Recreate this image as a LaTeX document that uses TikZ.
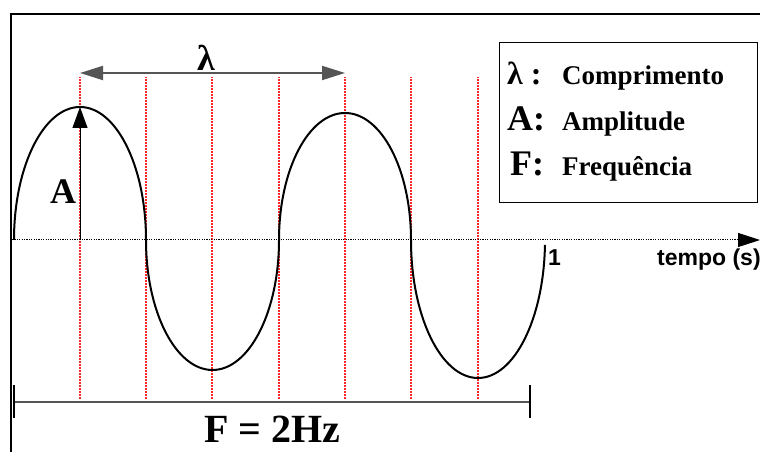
\documentclass[tikz,border=0pt]{standalone}
\usepackage{fontspec}
\setmainfont{Liberation Serif}
\setsansfont{Liberation Sans}
\usetikzlibrary{arrows.meta}
\definecolor{GuideRed}{RGB}{250,40,40}
\definecolor{ArrowGray}{RGB}{85,85,85}
\tikzset{
  wave/.style={draw=black,line width=2pt},
  guide/.style={draw=GuideRed,line width=1.1pt,dash pattern=on 2pt off 1pt},
  axisline/.style={draw=black,line width=1pt,dash pattern=on 1.2pt off 1.2pt},
  txt/.style={inner sep=0pt,anchor=base west},
  big/.style={txt,font=\bfseries\fontsize{36}{40}\selectfont},
  legtext/.style={txt,font=\bfseries\fontsize{27}{30}\selectfont},
  sanslab/.style={txt,font=\sffamily\bfseries\fontsize{23}{26}\selectfont},
}
\tikzset{head/.style={-{Triangle[length=22pt,width=14pt]}}, bar/.style={draw=ArrowGray,line width=2pt}}

\begin{document}
\begin{tikzpicture}[x=1pt,y=1pt]
\useasboundingbox (0,0) rectangle (760,452);
% frame
\draw[line width=2.5pt] (11,0) -- (11,438) -- (762,438);
% guide lines
\foreach \gx in {80,146,212,279,345,411,478}
  \draw[guide] (\gx,53) -- (\gx,375);
% time axis
\coordinate (t0) at (12,212);
\coordinate (t1) at (760,212);
\draw[axisline,head] (t0) -- (t1);
% wave
\draw[wave] (14,212) arc[start angle=180,end angle=0,x radius=66,y radius=133]
  arc[start angle=180,end angle=360,x radius=66.5,y radius=130]
  arc[start angle=180,end angle=0,x radius=66,y radius=127]
  arc[start angle=180,end angle=358,x radius=67,y radius=138];
% wavelength
\coordinate (l0) at (80,379);
\coordinate (l1) at (345,379);
\draw[bar,{Triangle[length=23pt,width=14pt]}-{Triangle[length=23pt,width=14pt]}] (l0) -- (l1);
\node[big] (lam) at (197,381) {λ};
% amplitude
\coordinate (a0) at (80,212);
\coordinate (a1) at (80,345);
\draw[line width=1pt,-{Triangle[length=21pt,width=15pt]}] (a0) -- (a1);
\node[big] (amp) at (50,248) {A};
% axis labels
\node[sanslab] (one) at (548,186) {1};
\node[sanslab] (tempo) at (657,186) {tempo (s)};
% one second span
\coordinate (s0) at (14,50);
\coordinate (s1) at (530,50);
\draw[bar] (s0) -- (s1);
\draw[line width=1.2pt] (14,34) -- (14,67) (530,34) -- (530,67);
\node[big,font=\bfseries\fontsize{40}{44}\selectfont] (freq) at (204,9) {F = 2Hz};
% legend
\draw[line width=1pt] (499,249) rectangle (757,409);
\node[big,font=\bfseries\fontsize{32}{36}\selectfont] (k1) at (507,367) {λ :};
\node[legtext] (v1) at (562,367) {Comprimento};
\node[big] (k2) at (507,321) {A:};
\node[legtext] (v2) at (562,321) {Amplitude};
\node[big] (k3) at (510,276) {F:};
\node[legtext] (v3) at (562,276) {Frequência};
\end{tikzpicture}
\end{document}
